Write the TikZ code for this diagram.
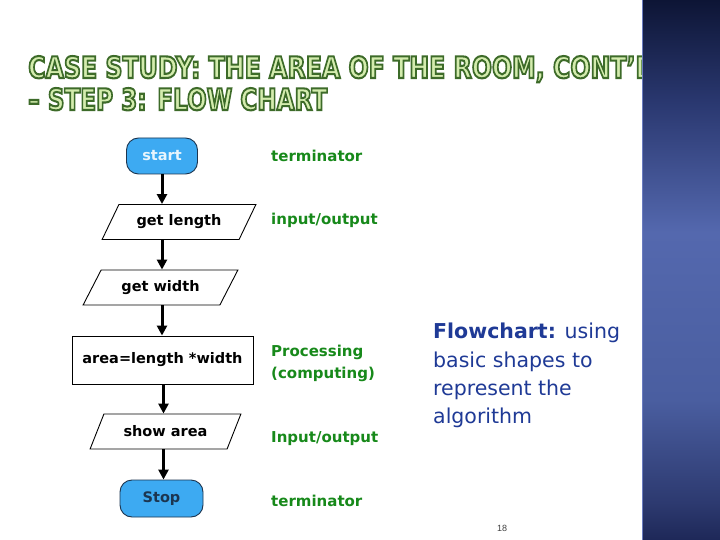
\documentclass[tikz,border=0pt]{standalone}
\usepackage{fontspec}
\setmainfont{DejaVu Sans}
\newfontfamily\numfont{Liberation Sans}
\usepackage{graphicx}
\usetikzlibrary{shapes.geometric,arrows.meta}
\definecolor{tglight}{HTML}{D4ECAE}
\definecolor{termfill}{HTML}{3DAAF2}
\definecolor{termdraw}{HTML}{1C3550}
\definecolor{lblgreen}{HTML}{17891A}
\definecolor{txtblue}{HTML}{1F3A96}
\definecolor{barline}{HTML}{6A7CC0}
\definecolor{barA}{HTML}{1E2858}
\definecolor{barB}{HTML}{2D3A70}
\definecolor{barC}{HTML}{4A5EA0}
\definecolor{barD}{HTML}{5468AE}
\definecolor{barE}{HTML}{2A3870}
\definecolor{barF}{HTML}{0D1535}
\pgfdeclareverticalshading{barshade}{100bp}{color(0bp)=(barA); color(25bp)=(barA); color(28.5bp)=(barB); color(38bp)=(barC); color(53.5bp)=(barD); color(65.5bp)=(barE); color(75bp)=(barF); color(100bp)=(barF)}
\newcommand{\outlinetext}[1]{{\bfseries\color{tglight}\special{pdf:literal 2 Tr 0.7 w 0.24 0.42 0.16 RG}#1\special{pdf:literal 0 Tr}}}
\tikzset{
  term/.style={rectangle, rounded corners=12pt, draw=termdraw, fill=termfill, line width=0.9pt, inner sep=0pt, font=\fontsize{14.5}{17}\selectfont\bfseries},
  iobox/.style={trapezium, trapezium left angle=50, trapezium right angle=130, trapezium stretches=true, draw, line width=0.9pt, inner sep=0pt, minimum height=35pt, font=\fontsize{14.5}{17}\selectfont\bfseries},
  procbox/.style={rectangle, draw, line width=0.9pt, inner sep=0pt, font=\fontsize{14.5}{17}\selectfont\bfseries},
  flow/.style={line width=3pt, -{Triangle[length=10pt,width=10pt]}},
  lbl/.style={anchor=base west, inner sep=0pt, text=lblgreen, font=\fontsize{15}{18}\selectfont\bfseries},
  bluetxt/.style={anchor=base west, inner sep=0pt, text=txtblue, font=\fontsize{20.5}{28}\selectfont},
  titletxt/.style={anchor=base west, inner sep=0pt}
}
\begin{document}
\begin{tikzpicture}[x=1pt,y=-1pt]
\useasboundingbox (0,0) rectangle (720,540);
\fill[white] (0,0) rectangle (720,540);
% title
\node[titletxt] (t1) at (28,78) {\resizebox{627pt}{22pt}{\outlinetext{CASE STUDY: THE AREA OF THE ROOM, CONT’D}}};
\node[titletxt] (t2) at (28,110) {\resizebox{299pt}{22pt}{\outlinetext{– STEP 3: FLOW CHART}}};
% right bar
\shade[shading=barshade] (642,0) rectangle (720,540);
\draw[color=barline, line width=0.8pt] (642.5,0) -- (642.5,540);
% flowchart
\node[term, minimum width=71pt, minimum height=36pt, text=white!88!termfill] (start) at (162,156) {start};
\node[iobox, minimum width=154pt] (glen) at (179,222) {get length};
\node[iobox, minimum width=155pt] (gwid) at (160.5,287.5) {get width};
\node[procbox, minimum width=181pt, minimum height=48pt] (proc) at (162.5,360) {area=length *width};
\node[iobox, minimum width=151pt] (show) at (165.5,431.5) {show area};
\node[term, minimum width=83pt, minimum height=37pt, text=termdraw] (stop) at (161.5,498.5) {Stop};
\draw[flow] (start.south) -- (glen.north -| start.south);
\draw[flow] (glen.south -| start.south) -- (gwid.north -| start.south);
\draw[flow] (gwid.south -| start.south) -- (proc.north -| start.south);
\coordinate (p1) at ([xshift=1pt]proc.south);
\draw[flow] (p1) -- (show.north -| p1);
\draw[flow] (show.south -| p1) -- (stop.north -| p1);
% green labels
\node[lbl] (l1) at (271,162) {terminator};
\node[lbl] (l2) at (271,225) {input/output};
\node[lbl] (l3) at (271,356) {Processing};
\node[lbl] (l4) at (271,378) {(computing)};
\node[lbl] (l5) at (271,442) {Input/output};
\node[lbl] (l6) at (271,506) {terminator};
% blue text
\node[bluetxt] (b1) at (433,338) {\textbf{Flowchart:} using};
\node[bluetxt] (b2) at (433,367) {basic shapes to};
\node[bluetxt] (b3) at (433,395) {represent the};
\node[bluetxt] (b4) at (433,423) {algorithm};
% page number
\node[font=\numfont\fontsize{9}{10}\selectfont, text=black!75, inner sep=0pt] (pg) at (502,528) {18};
\end{tikzpicture}
\end{document}
